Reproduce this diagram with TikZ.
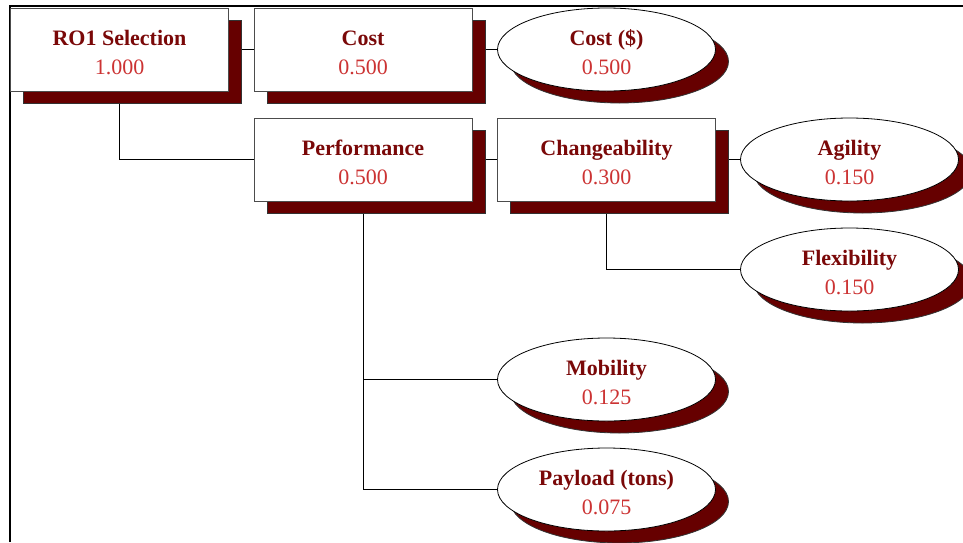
\documentclass[tikz,border=0pt]{standalone}
\usepackage{fontspec}
\setmainfont{Liberation Serif}
\usetikzlibrary{shapes.geometric,shadows,backgrounds}
\definecolor{titlered}{RGB}{122,8,8}
\definecolor{valred}{RGB}{204,51,51}
\definecolor{shadowred}{RGB}{102,0,0}
\tikzset{
  wbox/.style={rectangle, draw=black!70, line width=0.8pt, fill=white,
    minimum width=218pt, minimum height=83pt, inner sep=0pt,
    align=center, text=titlered, font=\fontsize{22}{29}\selectfont,
    drop shadow={shadow xshift=13pt, shadow yshift=-12pt, fill=shadowred, draw=black!80, opacity=1}},
  wleaf/.style={wbox, ellipse, draw=black},
  link/.style={draw, line width=0.8pt}
}
\begin{document}
\begin{tikzpicture}[x=1pt,y=1pt]
    \useasboundingbox (0,0) rectangle (963,-542);
    \node[wbox] (ro1) at (119.5,-49.5) {\rule{0pt}{21pt}\textbf{RO1 Selection}\\\textcolor{valred}{1.000}};
    \node[wbox] (cost) at (363,-49.5) {\rule{0pt}{21pt}\textbf{Cost}\\\textcolor{valred}{0.500}};
    \node[wleaf] (costd) at (606.5,-49.5) {\rule{0pt}{21pt}\textbf{Cost (\$)}\\\textcolor{valred}{0.500}};
    \node[wbox] (perf) at (363,-159.5) {\rule{0pt}{21pt}\textbf{Performance}\\\textcolor{valred}{0.500}};
    \node[wbox] (change) at (606.5,-159.5) {\rule{0pt}{21pt}\textbf{Changeability}\\\textcolor{valred}{0.300}};
    \node[wleaf] (agil) at (849.5,-159.5) {\rule{0pt}{21pt}\textbf{Agility}\\\textcolor{valred}{0.150}};
    \node[wleaf] (flex) at (849.5,-269.5) {\rule{0pt}{21pt}\textbf{Flexibility}\\\textcolor{valred}{0.150}};
    \node[wleaf] (mob) at (606.5,-379.5) {\rule{0pt}{21pt}\textbf{Mobility}\\\textcolor{valred}{0.125}};
    \node[wleaf] (pay) at (606.5,-489.5) {\rule{0pt}{21pt}\textbf{Payload (tons)}\\\textcolor{valred}{0.075}};
    \begin{scope}[on background layer]
    \draw[line width=2pt] (10,-542) -- (10,-6) -- (963,-6);
    \path[link] (ro1.east) -- (cost.west);
    \path[link] (ro1.south) |- (perf.west);
    \path[link] (cost.east) -- (costd.west);
    \path[link] (perf.east) -- (change.west);
    \path[link] (change.east) -- (agil.west);
    \path[link] (change.south) |- (flex.west);
    \path[link] (perf.south) |- (mob.west);
    \path[link] (perf.south) |- (pay.west);
    \end{scope}
\end{tikzpicture}
\end{document}
